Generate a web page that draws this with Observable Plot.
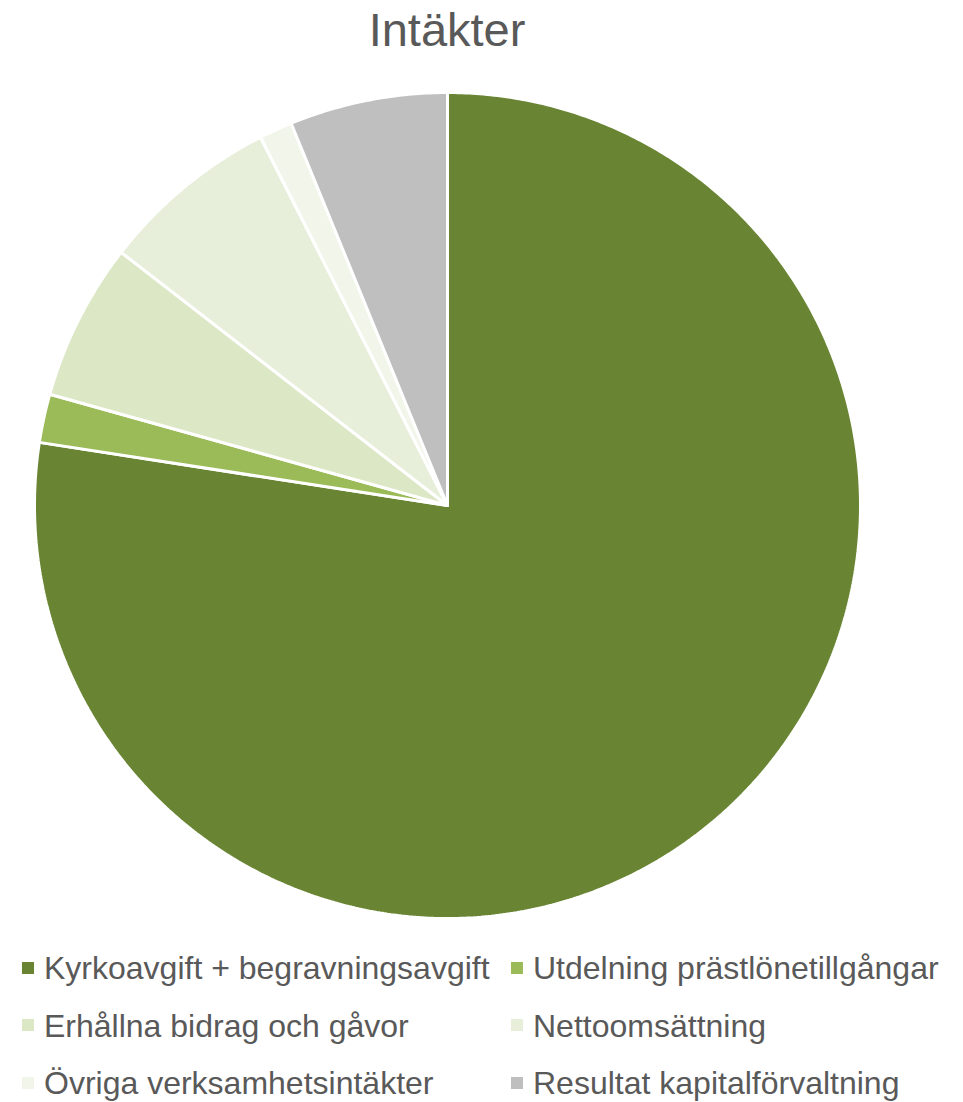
<!DOCTYPE html>
<html>
<head>
<meta charset="utf-8">
<script src="https://cdn.jsdelivr.net/npm/d3@7"></script>
<script src="https://cdn.jsdelivr.net/npm/@observablehq/plot@0.6"></script>
<style>
  html, body { margin: 0; padding: 0; background: #fff; }
  body { width: 963px; height: 1102px; position: relative; overflow: hidden; font-family: "Liberation Sans", Arial, sans-serif; }
  #title { position: absolute; left: 0; top: 0; width: 894px; height: 60px; line-height: 60px; text-align: center; font-size: 47px; color: #595959; }
  #chart { position: absolute; left: 0; top: 60px; }
  #legend { position: absolute; left: 0; top: 940px; width: 963px; }
  .row { height: 57.5px; line-height: 57.5px; position: relative; font-size: 32px; color: #595959; white-space: nowrap; }
  .item { position: absolute; top: 0; }
  .sw { display: inline-block; width: 12px; height: 12px; margin-right: 10px; vertical-align: middle; position: relative; top: -3px; }
</style>
</head>
<body>
<div id="title">Intäkter</div>
<div id="chart"></div>
<div id="legend"></div>
<script>
const categories = [
  "Kyrkoavgift + begravningsavgift",
  "Utdelning prästlönetillgångar",
  "Erhållna bidrag och gåvor",
  "Nettoomsättning",
  "Övriga verksamhetsintäkter",
  "Resultat kapitalförvaltning"
];
const values = [77.45, 1.9, 6.16, 7.02, 1.3, 6.18];
const colors = ["#698533", "#9bbb59", "#dce7c5", "#e7efda", "#f2f6ea", "#bfbfbf"];

// build slice outlines (angles clockwise from 12 o'clock)
const total = d3.sum(values);
const pts = [];
let acc = 0;
categories.forEach((c, i) => {
  const a0 = acc / total * 2 * Math.PI;
  acc += values[i];
  const a1 = acc / total * 2 * Math.PI;
  pts.push({c, x: 0, y: 0});
  const n = Math.max(2, Math.ceil((a1 - a0) / (Math.PI / 360)));
  for (let k = 0; k <= n; k++) {
    const a = a0 + (a1 - a0) * k / n;
    pts.push({c, x: Math.sin(a), y: Math.cos(a)});
  }
  pts.push({c, x: 0, y: 0});
});

const cx = 447, cy = 445, r = 413;
const chart = Plot.plot({
  width: 963,
  height: 880,
  margin: 0,
  x: {domain: [-1, 1], range: [cx - r, cx + r], axis: null},
  y: {domain: [-1, 1], range: [cy + r, cy - r], axis: null},
  color: {domain: categories, range: colors},
  marks: [
    Plot.line(pts, {x: "x", y: "y", z: "c", fill: "c", stroke: "white", strokeWidth: 3, strokeLinejoin: "miter", curve: "linear"})
  ]
});
document.getElementById("chart").appendChild(chart);

// legend
const legend = document.getElementById("legend");
const colX = [22, 511];
for (let row = 0; row < 3; row++) {
  const div = document.createElement("div");
  div.className = "row";
  for (let col = 0; col < 2; col++) {
    const i = row * 2 + col;
    const item = document.createElement("span");
    item.className = "item";
    item.style.left = colX[col] + "px";
    const sw = document.createElement("span");
    sw.className = "sw";
    sw.style.background = colors[i];
    item.appendChild(sw);
    item.appendChild(document.createTextNode(categories[i]));
    div.appendChild(item);
  }
  legend.appendChild(div);
}
</script>
</body>
</html>
